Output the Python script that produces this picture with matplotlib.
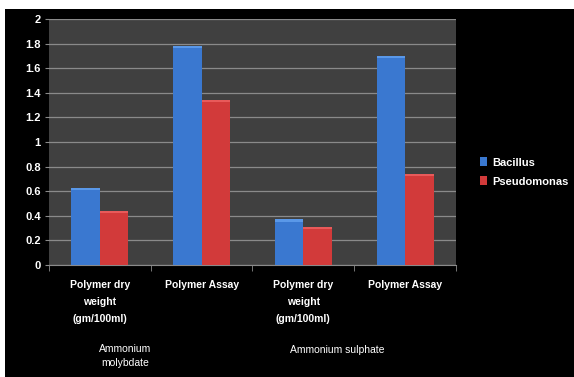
import matplotlib
matplotlib.use("Agg")
import matplotlib.pyplot as plt
from matplotlib.patches import Rectangle
import numpy as np

# data
categories = ["Polymer dry\nweight\n(gm/100ml)", "Polymer Assay",
              "Polymer dry\nweight\n(gm/100ml)", "Polymer Assay"]
bacillus = [0.63, 1.78, 0.37, 1.70]
pseudomonas = [0.44, 1.34, 0.31, 0.74]
groups = ["Ammonium\nmolybdate", "Ammonium sulphate"]
yticks = [0, 0.2, 0.4, 0.6, 0.8, 1, 1.2, 1.4, 1.6, 1.8, 2]

plt.rcParams['font.family'] = ['Liberation Sans', 'DejaVu Sans']

fig = plt.figure(figsize=(5.74, 3.77), dpi=100, facecolor='white')
# black slide background with thin white strip top/left
fig.patches.append(Rectangle((5/574, 0), 1, 1 - 9/377, transform=fig.transFigure,
                             facecolor='black', edgecolor='none', zorder=-10))

ax = fig.add_axes([49/574, 1 - 265/377, 407/574, 246/377])
ax.set_facecolor('#404040')

x = np.arange(len(categories))
w = 0.28
b1 = ax.bar(x - w/2, bacillus, w, color='#3a78d0', label='Bacillus', zorder=3)
b2 = ax.bar(x + w/2, pseudomonas, w, color='#d23a3a', label='Pseudomonas', zorder=3)
# soft highlight on bar tops
cap = 0.018
ax.bar(x - w/2, [cap]*4, w, bottom=np.array(bacillus) - cap, color='#5a98e8', zorder=4)
ax.bar(x + w/2, [cap]*4, w, bottom=np.array(pseudomonas) - cap, color='#e85a5a', zorder=4)

ax.set_xlim(-0.5, 3.5)
ax.set_ylim(0, 2)
ax.set_yticks(yticks)
ax.set_yticklabels([f"{t:g}" for t in yticks], color='white', fontsize=8, fontweight='bold')
ax.yaxis.grid(True, color='#8a8a8a', linewidth=0.9, zorder=1)
ax.tick_params(axis='y', length=3, color='#8a8a8a', pad=3)

ax.set_xticks(x)
ax.set_xticklabels(categories, color='white', fontsize=7.5, fontweight='bold', linespacing=1.85)
ax.set_xticks(np.arange(-0.5, 4, 1), minor=True)
ax.tick_params(axis='x', which='major', length=0, pad=11)
ax.tick_params(axis='x', which='minor', length=4, color='#8a8a8a')

for s in ['top', 'right', 'left']:
    ax.spines[s].set_visible(False)
ax.spines['bottom'].set_color('#8a8a8a')

fig.text(125/574, 1 - 356/377, groups[0], color='white', fontsize=7.5,
         ha='center', va='center', linespacing=1.6)
fig.text(337/574, 1 - 350/377, groups[1], color='white', fontsize=7.5,
         ha='center', va='center')

leg = fig.legend(handles=[b1, b2], loc='center left', bbox_to_anchor=(470/574, 1 - 172/377),
                 frameon=False, handlelength=0.6, handleheight=0.8, handletextpad=0.5,
                 labelspacing=0.8, prop={'weight': 'bold', 'size': 8})
for t in leg.get_texts():
    t.set_color('white')

fig.savefig('out.png', dpi=100, facecolor=fig.get_facecolor())
